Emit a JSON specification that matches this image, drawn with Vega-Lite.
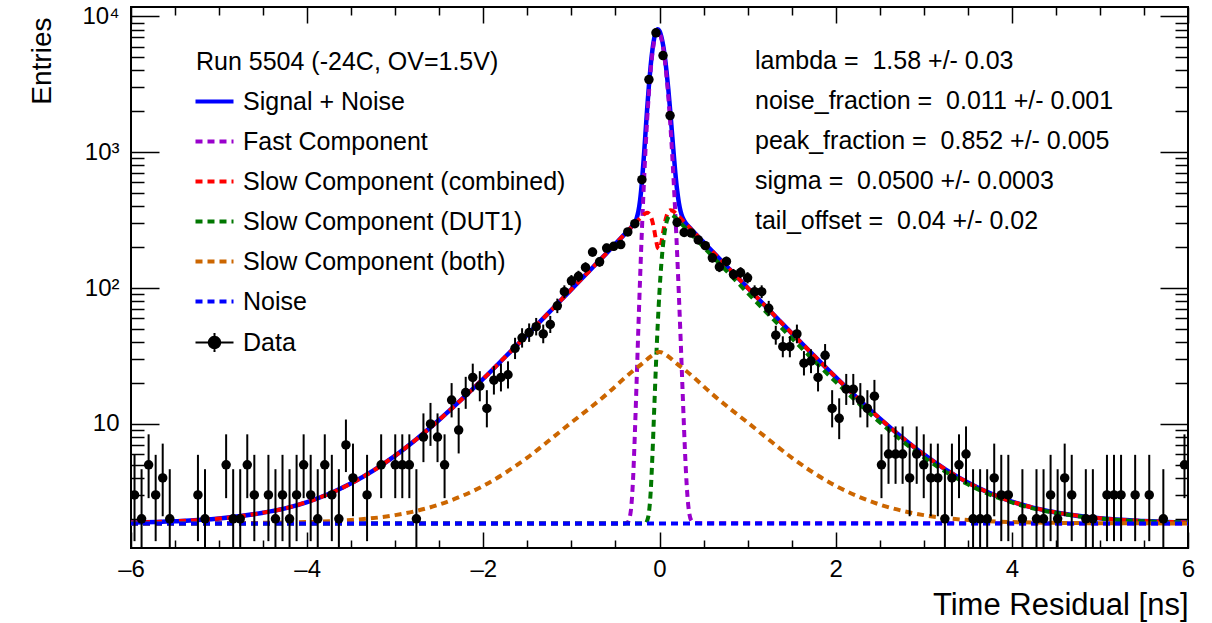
{
  "$schema": "https://vega.github.io/schema/vega-lite/v6.json",
  "width": 1057,
  "height": 541,
  "autosize": {"type": "none"},
  "padding": {"left": 131, "top": 7, "right": 24, "bottom": 75},
  "background": "white",
  "config": {
    "font": "Liberation Sans",
    "view": {"stroke": "black", "strokeWidth": 2},
    "axis": {"grid": false, "domain": false, "labelColor": "black", "tickColor": "black", "tickWidth": 1.5, "titleColor": "black", "labelFontSize": 24, "titleFontSize": 28, "titleFontWeight": "normal", "labelFont": "Liberation Sans", "titleFont": "Liberation Sans"}
  },
  "title": {
    "text": ["lambda = \u00a01.58 +/- 0.03", "noise_fraction = \u00a00.011 +/- 0.001", "peak_fraction = \u00a00.852 +/- 0.005", "sigma = \u00a00.0500 +/- 0.0003", "tail_offset = \u00a00.04 +/- 0.02"],
    "anchor": "start", "frame": "group", "orient": "top", "align": "left", "baseline": "top",
    "dx": 624, "dy": 230, "offset": 0, "fontSize": 25, "fontWeight": "normal", "lineHeight": 40.2, "color": "black", "font": "Liberation Sans", "limit": 0
  },
  "datasets": {
    "curves": [
      {"s":"Signal + Noise","t":-6,"v":1.88},{"s":"Signal + Noise","t":-5.5,"v":1.92},{"s":"Signal + Noise","t":-5,"v":2.01},{"s":"Signal + Noise","t":-4.5,"v":2.22},{"s":"Signal + Noise","t":-4.25,"v":2.39},{"s":"Signal + Noise","t":-4,"v":2.66},{"s":"Signal + Noise","t":-3.75,"v":3.06},{"s":"Signal + Noise","t":-3.5,"v":3.65},{"s":"Signal + Noise","t":-3.25,"v":4.53},{"s":"Signal + Noise","t":-3,"v":5.84},{"s":"Signal + Noise","t":-2.75,"v":7.81},{"s":"Signal + Noise","t":-2.5,"v":10.73},{"s":"Signal + Noise","t":-2.25,"v":15.07},{"s":"Signal + Noise","t":-2,"v":21.5},{"s":"Signal + Noise","t":-1.75,"v":31.2},{"s":"Signal + Noise","t":-1.5,"v":45.4},{"s":"Signal + Noise","t":-1.2,"v":71.9},{"s":"Signal + Noise","t":-1,"v":97.8},{"s":"Signal + Noise","t":-0.9,"v":114.1},{"s":"Signal + Noise","t":-0.8,"v":132.9},{"s":"Signal + Noise","t":-0.7,"v":155.3},{"s":"Signal + Noise","t":-0.6,"v":181},{"s":"Signal + Noise","t":-0.5,"v":211.7},{"s":"Signal + Noise","t":-0.4,"v":247.5},{"s":"Signal + Noise","t":-0.36,"v":263.5},{"s":"Signal + Noise","t":-0.32,"v":281},{"s":"Signal + Noise","t":-0.3,"v":291.4},{"s":"Signal + Noise","t":-0.28,"v":304.8},{"s":"Signal + Noise","t":-0.26,"v":326.2},{"s":"Signal + Noise","t":-0.24,"v":365.9},{"s":"Signal + Noise","t":-0.22,"v":444.7},{"s":"Signal + Noise","t":-0.2,"v":598.7},{"s":"Signal + Noise","t":-0.18,"v":880.6},{"s":"Signal + Noise","t":-0.16,"v":1359},{"s":"Signal + Noise","t":-0.14,"v":2091},{"s":"Signal + Noise","t":-0.12,"v":3104},{"s":"Signal + Noise","t":-0.1,"v":4352},{"s":"Signal + Noise","t":-0.08,"v":5694},{"s":"Signal + Noise","t":-0.06,"v":6912},{"s":"Signal + Noise","t":-0.04,"v":7763},{"s":"Signal + Noise","t":-0.02,"v":8058},{"s":"Signal + Noise","t":0,"v":7812},{"s":"Signal + Noise","t":0.02,"v":7151},{"s":"Signal + Noise","t":0.04,"v":6188},{"s":"Signal + Noise","t":0.06,"v":5067},{"s":"Signal + Noise","t":0.08,"v":3936},{"s":"Signal + Noise","t":0.1,"v":2915},{"s":"Signal + Noise","t":0.12,"v":2073},{"s":"Signal + Noise","t":0.14,"v":1437},{"s":"Signal + Noise","t":0.16,"v":992},{"s":"Signal + Noise","t":0.18,"v":702},{"s":"Signal + Noise","t":0.2,"v":526},{"s":"Signal + Noise","t":0.22,"v":424},{"s":"Signal + Noise","t":0.24,"v":366},{"s":"Signal + Noise","t":0.26,"v":333},{"s":"Signal + Noise","t":0.28,"v":314},{"s":"Signal + Noise","t":0.3,"v":300},{"s":"Signal + Noise","t":0.32,"v":289},{"s":"Signal + Noise","t":0.34,"v":280},{"s":"Signal + Noise","t":0.36,"v":271},{"s":"Signal + Noise","t":0.4,"v":254.4},{"s":"Signal + Noise","t":0.5,"v":217.7},{"s":"Signal + Noise","t":0.6,"v":186.3},{"s":"Signal + Noise","t":0.7,"v":159.5},{"s":"Signal + Noise","t":0.8,"v":136.7},{"s":"Signal + Noise","t":0.9,"v":117.2},{"s":"Signal + Noise","t":1,"v":100.5},{"s":"Signal + Noise","t":1.2,"v":73.9},{"s":"Signal + Noise","t":1.5,"v":46.6},{"s":"Signal + Noise","t":1.75,"v":32},{"s":"Signal + Noise","t":2,"v":22.1},{"s":"Signal + Noise","t":2.25,"v":15.44},{"s":"Signal + Noise","t":2.5,"v":10.98},{"s":"Signal + Noise","t":2.75,"v":7.98},{"s":"Signal + Noise","t":3,"v":5.96},{"s":"Signal + Noise","t":3.25,"v":4.61},{"s":"Signal + Noise","t":3.5,"v":3.7},{"s":"Signal + Noise","t":3.75,"v":3.09},{"s":"Signal + Noise","t":4,"v":2.68},{"s":"Signal + Noise","t":4.25,"v":2.41},{"s":"Signal + Noise","t":4.5,"v":2.23},{"s":"Signal + Noise","t":5,"v":2.02},{"s":"Signal + Noise","t":5.5,"v":1.93},{"s":"Signal + Noise","t":6,"v":1.88},

      {"s":"Fast Component","t":-6,"v":1.85},{"s":"Fast Component","t":-0.4,"v":1.85},{"s":"Fast Component","t":-0.36,"v":1.89},{"s":"Fast Component","t":-0.34,"v":2.02},{"s":"Fast Component","t":-0.32,"v":2.47},{"s":"Fast Component","t":-0.3,"v":3.94},{"s":"Fast Component","t":-0.28,"v":8.35},{"s":"Fast Component","t":-0.26,"v":20.35},{"s":"Fast Component","t":-0.24,"v":50.55},{"s":"Fast Component","t":-0.22,"v":119.6},{"s":"Fast Component","t":-0.2,"v":263.5},{"s":"Fast Component","t":-0.18,"v":535.9},{"s":"Fast Component","t":-0.16,"v":1006},{"s":"Fast Component","t":-0.14,"v":1735},{"s":"Fast Component","t":-0.12,"v":2752},{"s":"Fast Component","t":-0.1,"v":4016},{"s":"Fast Component","t":-0.08,"v":5388},{"s":"Fast Component","t":-0.06,"v":6647},{"s":"Fast Component","t":-0.04,"v":7539},{"s":"Fast Component","t":-0.02,"v":7862},{"s":"Fast Component","t":0,"v":7620},{"s":"Fast Component","t":0.02,"v":6938},{"s":"Fast Component","t":0.04,"v":5935},{"s":"Fast Component","t":0.06,"v":4769},{"s":"Fast Component","t":0.08,"v":3600},{"s":"Fast Component","t":0.1,"v":2554},{"s":"Fast Component","t":0.12,"v":1702},{"s":"Fast Component","t":0.14,"v":1066},{"s":"Fast Component","t":0.16,"v":627},{"s":"Fast Component","t":0.18,"v":347},{"s":"Fast Component","t":0.2,"v":181},{"s":"Fast Component","t":0.22,"v":89.2},{"s":"Fast Component","t":0.24,"v":41.9},{"s":"Fast Component","t":0.26,"v":19.05},{"s":"Fast Component","t":0.28,"v":8.8},{"s":"Fast Component","t":0.3,"v":4.49},{"s":"Fast Component","t":0.32,"v":2.79},{"s":"Fast Component","t":0.34,"v":2.16},{"s":"Fast Component","t":0.36,"v":1.95},{"s":"Fast Component","t":0.4,"v":1.86},{"s":"Fast Component","t":6,"v":1.85},

      {"s":"Slow Component (combined)","t":-6,"v":1.88},{"s":"Slow Component (combined)","t":-5.5,"v":1.92},{"s":"Slow Component (combined)","t":-5,"v":2.01},{"s":"Slow Component (combined)","t":-4.5,"v":2.22},{"s":"Slow Component (combined)","t":-4.25,"v":2.39},{"s":"Slow Component (combined)","t":-4,"v":2.66},{"s":"Slow Component (combined)","t":-3.75,"v":3.06},{"s":"Slow Component (combined)","t":-3.5,"v":3.65},{"s":"Slow Component (combined)","t":-3.25,"v":4.53},{"s":"Slow Component (combined)","t":-3,"v":5.84},{"s":"Slow Component (combined)","t":-2.75,"v":7.81},{"s":"Slow Component (combined)","t":-2.5,"v":10.73},{"s":"Slow Component (combined)","t":-2.25,"v":15.07},{"s":"Slow Component (combined)","t":-2,"v":21.5},{"s":"Slow Component (combined)","t":-1.75,"v":31.2},{"s":"Slow Component (combined)","t":-1.5,"v":45.4},{"s":"Slow Component (combined)","t":-1.2,"v":71.9},{"s":"Slow Component (combined)","t":-1,"v":97.8},{"s":"Slow Component (combined)","t":-0.9,"v":114.1},{"s":"Slow Component (combined)","t":-0.8,"v":132.9},{"s":"Slow Component (combined)","t":-0.7,"v":155.3},{"s":"Slow Component (combined)","t":-0.6,"v":181},{"s":"Slow Component (combined)","t":-0.5,"v":211.7},{"s":"Slow Component (combined)","t":-0.4,"v":247.5},{"s":"Slow Component (combined)","t":-0.36,"v":263.5},{"s":"Slow Component (combined)","t":-0.32,"v":280.4},{"s":"Slow Component (combined)","t":-0.28,"v":298.3},{"s":"Slow Component (combined)","t":-0.24,"v":317.2},{"s":"Slow Component (combined)","t":-0.2,"v":337.1},{"s":"Slow Component (combined)","t":-0.18,"v":346.6},{"s":"Slow Component (combined)","t":-0.16,"v":354.7},{"s":"Slow Component (combined)","t":-0.14,"v":358.4},{"s":"Slow Component (combined)","t":-0.12,"v":354.1},{"s":"Slow Component (combined)","t":-0.1,"v":337.9},{"s":"Slow Component (combined)","t":-0.08,"v":307.9},{"s":"Slow Component (combined)","t":-0.06,"v":267.4},{"s":"Slow Component (combined)","t":-0.04,"v":226.4},{"s":"Slow Component (combined)","t":-0.02,"v":198.4},{"s":"Slow Component (combined)","t":0,"v":194.1},{"s":"Slow Component (combined)","t":0.02,"v":215.1},{"s":"Slow Component (combined)","t":0.04,"v":254.8},{"s":"Slow Component (combined)","t":0.06,"v":300.1},{"s":"Slow Component (combined)","t":0.08,"v":338.3},{"s":"Slow Component (combined)","t":0.1,"v":362.8},{"s":"Slow Component (combined)","t":0.12,"v":373.3},{"s":"Slow Component (combined)","t":0.14,"v":372.9},{"s":"Slow Component (combined)","t":0.16,"v":366.5},{"s":"Slow Component (combined)","t":0.18,"v":357.2},{"s":"Slow Component (combined)","t":0.2,"v":346.7},{"s":"Slow Component (combined)","t":0.24,"v":326.1},{"s":"Slow Component (combined)","t":0.28,"v":306.6},{"s":"Slow Component (combined)","t":0.32,"v":288.2},{"s":"Slow Component (combined)","t":0.36,"v":270.9},{"s":"Slow Component (combined)","t":0.4,"v":254.4},{"s":"Slow Component (combined)","t":0.5,"v":217.7},{"s":"Slow Component (combined)","t":0.6,"v":186.3},{"s":"Slow Component (combined)","t":0.7,"v":159.5},{"s":"Slow Component (combined)","t":0.8,"v":136.7},{"s":"Slow Component (combined)","t":0.9,"v":117.2},{"s":"Slow Component (combined)","t":1,"v":100.5},{"s":"Slow Component (combined)","t":1.2,"v":73.9},{"s":"Slow Component (combined)","t":1.5,"v":46.6},{"s":"Slow Component (combined)","t":1.75,"v":32},{"s":"Slow Component (combined)","t":2,"v":22.1},{"s":"Slow Component (combined)","t":2.25,"v":15.44},{"s":"Slow Component (combined)","t":2.5,"v":10.98},{"s":"Slow Component (combined)","t":2.75,"v":7.98},{"s":"Slow Component (combined)","t":3,"v":5.96},{"s":"Slow Component (combined)","t":3.25,"v":4.61},{"s":"Slow Component (combined)","t":3.5,"v":3.7},{"s":"Slow Component (combined)","t":3.75,"v":3.09},{"s":"Slow Component (combined)","t":4,"v":2.68},{"s":"Slow Component (combined)","t":4.25,"v":2.41},{"s":"Slow Component (combined)","t":4.5,"v":2.23},{"s":"Slow Component (combined)","t":5,"v":2.02},{"s":"Slow Component (combined)","t":5.5,"v":1.93},{"s":"Slow Component (combined)","t":6,"v":1.88},

      {"s":"Slow Component (DUT1)","t":-6,"v":1.85},{"s":"Slow Component (DUT1)","t":-0.16,"v":1.85},{"s":"Slow Component (DUT1)","t":-0.14,"v":1.94},{"s":"Slow Component (DUT1)","t":-0.12,"v":2.22},{"s":"Slow Component (DUT1)","t":-0.1,"v":3.16},{"s":"Slow Component (DUT1)","t":-0.08,"v":5.92},{"s":"Slow Component (DUT1)","t":-0.06,"v":12.8},{"s":"Slow Component (DUT1)","t":-0.04,"v":27.4},{"s":"Slow Component (DUT1)","t":-0.02,"v":53.9},{"s":"Slow Component (DUT1)","t":0,"v":94.7},{"s":"Slow Component (DUT1)","t":0.02,"v":148.1},{"s":"Slow Component (DUT1)","t":0.04,"v":207.4},{"s":"Slow Component (DUT1)","t":0.06,"v":262.9},{"s":"Slow Component (DUT1)","t":0.08,"v":305.9},{"s":"Slow Component (DUT1)","t":0.1,"v":332.7},{"s":"Slow Component (DUT1)","t":0.12,"v":344.3},{"s":"Slow Component (DUT1)","t":0.14,"v":344.8},{"s":"Slow Component (DUT1)","t":0.16,"v":339.1},{"s":"Slow Component (DUT1)","t":0.18,"v":330.6},{"s":"Slow Component (DUT1)","t":0.2,"v":320.9},{"s":"Slow Component (DUT1)","t":0.24,"v":301.5},{"s":"Slow Component (DUT1)","t":0.28,"v":283.2},{"s":"Slow Component (DUT1)","t":0.32,"v":266},{"s":"Slow Component (DUT1)","t":0.36,"v":249.8},{"s":"Slow Component (DUT1)","t":0.4,"v":234.6},{"s":"Slow Component (DUT1)","t":0.5,"v":200.6},{"s":"Slow Component (DUT1)","t":0.6,"v":171.6},{"s":"Slow Component (DUT1)","t":0.7,"v":146.8},{"s":"Slow Component (DUT1)","t":0.8,"v":125.6},{"s":"Slow Component (DUT1)","t":0.9,"v":107.5},{"s":"Slow Component (DUT1)","t":1,"v":92.1},{"s":"Slow Component (DUT1)","t":1.2,"v":67.7},{"s":"Slow Component (DUT1)","t":1.5,"v":42.8},{"s":"Slow Component (DUT1)","t":1.75,"v":29.4},{"s":"Slow Component (DUT1)","t":2,"v":20.4},{"s":"Slow Component (DUT1)","t":2.25,"v":14.36},{"s":"Slow Component (DUT1)","t":2.5,"v":10.28},{"s":"Slow Component (DUT1)","t":2.75,"v":7.53},{"s":"Slow Component (DUT1)","t":3,"v":5.68},{"s":"Slow Component (DUT1)","t":3.25,"v":4.43},{"s":"Slow Component (DUT1)","t":3.5,"v":3.59},{"s":"Slow Component (DUT1)","t":3.75,"v":3.02},{"s":"Slow Component (DUT1)","t":4,"v":2.64},{"s":"Slow Component (DUT1)","t":4.25,"v":2.38},{"s":"Slow Component (DUT1)","t":4.5,"v":2.21},{"s":"Slow Component (DUT1)","t":5,"v":2.01},{"s":"Slow Component (DUT1)","t":5.5,"v":1.92},{"s":"Slow Component (DUT1)","t":6,"v":1.88},

      {"s":"Slow Component (both)","t":-6,"v":1.851},{"s":"Slow Component (both)","t":-5,"v":1.857},{"s":"Slow Component (both)","t":-4.5,"v":1.868},{"s":"Slow Component (both)","t":-4,"v":1.895},{"s":"Slow Component (both)","t":-3.5,"v":1.96},{"s":"Slow Component (both)","t":-3,"v":2.13},{"s":"Slow Component (both)","t":-2.5,"v":2.55},{"s":"Slow Component (both)","t":-2,"v":3.5},{"s":"Slow Component (both)","t":-1.5,"v":5.65},{"s":"Slow Component (both)","t":-1.2,"v":8.05},{"s":"Slow Component (both)","t":-1,"v":10.25},{"s":"Slow Component (both)","t":-0.8,"v":12.95},{"s":"Slow Component (both)","t":-0.6,"v":16.55},{"s":"Slow Component (both)","t":-0.4,"v":21.65},{"s":"Slow Component (both)","t":-0.3,"v":24.65},{"s":"Slow Component (both)","t":-0.2,"v":27.65},{"s":"Slow Component (both)","t":-0.1,"v":31.35},{"s":"Slow Component (both)","t":0,"v":33.85},{"s":"Slow Component (both)","t":0.1,"v":31.35},{"s":"Slow Component (both)","t":0.2,"v":27.65},{"s":"Slow Component (both)","t":0.3,"v":24.65},{"s":"Slow Component (both)","t":0.4,"v":21.65},{"s":"Slow Component (both)","t":0.6,"v":16.55},{"s":"Slow Component (both)","t":0.8,"v":12.95},{"s":"Slow Component (both)","t":1,"v":10.25},{"s":"Slow Component (both)","t":1.2,"v":8.05},{"s":"Slow Component (both)","t":1.5,"v":5.65},{"s":"Slow Component (both)","t":2,"v":3.5},{"s":"Slow Component (both)","t":2.5,"v":2.55},{"s":"Slow Component (both)","t":3,"v":2.13},{"s":"Slow Component (both)","t":3.5,"v":1.96},{"s":"Slow Component (both)","t":4,"v":1.895},{"s":"Slow Component (both)","t":4.5,"v":1.868},{"s":"Slow Component (both)","t":5,"v":1.857},{"s":"Slow Component (both)","t":6,"v":1.851},

      {"s":"Noise","t":-6,"v":1.85},{"s":"Noise","t":6,"v":1.85}
    ],
    "points": [
      {"t":-5.96,"n":3,"lo":1.37,"hi":5.92},{"t":-5.88,"n":2,"lo":0.71,"hi":4.64},{"t":-5.8,"n":5,"lo":2.84,"hi":8.38},{"t":-5.72,"n":3,"lo":1.37,"hi":5.92},{"t":-5.64,"n":4,"lo":2.09,"hi":7.16},{"t":-5.56,"n":2,"lo":0.71,"hi":4.64},
      {"t":-5.24,"n":3,"lo":1.37,"hi":5.92},{"t":-5.16,"n":2,"lo":0.71,"hi":4.64},{"t":-4.92,"n":5,"lo":2.84,"hi":8.38},{"t":-4.84,"n":2,"lo":0.71,"hi":4.64},{"t":-4.76,"n":2,"lo":0.71,"hi":4.64},{"t":-4.68,"n":5,"lo":2.84,"hi":8.38},{"t":-4.6,"n":3,"lo":1.37,"hi":5.92},
      {"t":-4.44,"n":3,"lo":1.37,"hi":5.92},{"t":-4.36,"n":2,"lo":0.71,"hi":4.64},{"t":-4.28,"n":3,"lo":1.37,"hi":5.92},{"t":-4.2,"n":2,"lo":0.71,"hi":4.64},{"t":-4.12,"n":3,"lo":1.37,"hi":5.92},{"t":-4.04,"n":5,"lo":2.84,"hi":8.38},{"t":-3.96,"n":3,"lo":1.37,"hi":5.92},{"t":-3.88,"n":2,"lo":0.71,"hi":4.64},{"t":-3.8,"n":5,"lo":2.84,"hi":8.38},{"t":-3.72,"n":3,"lo":1.37,"hi":5.92},{"t":-3.64,"n":2,"lo":0.71,"hi":4.64},{"t":-3.56,"n":7,"lo":4.42,"hi":10.77},{"t":-3.48,"n":4,"lo":2.09,"hi":7.16},
      {"t":-3.32,"n":3,"lo":1.37,"hi":5.92},{"t":-3.16,"n":5,"lo":2.84,"hi":8.38},{"t":-3.0,"n":5,"lo":2.84,"hi":8.38},{"t":-2.92,"n":5,"lo":2.84,"hi":8.38},{"t":-2.84,"n":5,"lo":2.84,"hi":8.38},{"t":-2.76,"n":2,"lo":0.71,"hi":4.64},{"t":-2.68,"n":8,"lo":5.23,"hi":11.95},{"t":-2.6,"n":10,"lo":6.89,"hi":14.27},{"t":-2.52,"n":8,"lo":5.23,"hi":11.95},{"t":-2.44,"n":5,"lo":2.84,"hi":8.38},{"t":-2.36,"n":15,"lo":11.16,"hi":19.97},{"t":-2.28,"n":9,"lo":6.06,"hi":13.11},{"t":-2.2,"n":17,"lo":12.91,"hi":22.21},{"t":-2.12,"n":22,"lo":17.34,"hi":27.77},{"t":-2.04,"n":19,"lo":14.67,"hi":24.44},{"t":-1.96,"n":13,"lo":9.43,"hi":17.71},{"t":-1.88,"n":21,"lo":16.45,"hi":26.66},{"t":-1.8,"n":22,"lo":17.34,"hi":27.77},{"t":-1.72,"n":23,"lo":18.23,"hi":28.87},{"t":-1.64,"n":36,"lo":30.02,"hi":43.06},{"t":-1.56,"n":43,"lo":36.46,"hi":50.61},{"t":-1.48,"n":47,"lo":40.16,"hi":54.91},{"t":-1.4,"n":52,"lo":44.81,"hi":60.26},{"t":-1.32,"n":46,"lo":39.24,"hi":53.84},{"t":-1.24,"n":54,"lo":46.67,"hi":62.4},{"t":-1.16,"n":74,"lo":65.41,"hi":83.65},{"t":-1.08,"n":94,"lo":84.32,"hi":104.73},{"t":-1.0,"n":113,"lo":102.38,"hi":124.67},{"t":-0.92,"n":122,"lo":110.97,"hi":134.08},{"t":-0.84,"n":142,"lo":130.09,"hi":154.95},{"t":-0.76,"n":184,"lo":170.45,"hi":198.59},{"t":-0.68,"n":156,"lo":143.52,"hi":169.52},{"t":-0.6,"n":197,"lo":182.97,"hi":212.06},{"t":-0.52,"n":203,"lo":188.76,"hi":218.27},{"t":-0.44,"n":209,"lo":194.55,"hi":224.48},{"t":-0.36,"n":259,"lo":242.91,"hi":276.12},{"t":-0.28,"n":298,"lo":280.75,"hi":316.28},{"t":-0.2,"n":628,"lo":602.95,"hi":654.08},{"t":-0.12,"n":3428,"lo":3369.45,"hi":3487.56},{"t":-0.04,"n":7568,"lo":7481.01,"hi":7656},{"t":0.04,"n":5150,"lo":5078.24,"hi":5222.77},{"t":0.12,"n":1862,"lo":1818.85,"hi":1906.16},{"t":0.2,"n":304,"lo":286.57,"hi":322.46},{"t":0.28,"n":257,"lo":240.98,"hi":274.06},{"t":0.36,"n":254,"lo":238.07,"hi":270.96},{"t":0.44,"n":226,"lo":210.98,"hi":242.06},{"t":0.52,"n":205,"lo":190.69,"hi":220.34},{"t":0.6,"n":167,"lo":154.09,"hi":180.95},{"t":0.68,"n":143,"lo":131.05,"hi":155.99},{"t":0.76,"n":157,"lo":144.48,"hi":170.56},{"t":0.84,"n":126,"lo":114.79,"hi":138.26},{"t":0.92,"n":130,"lo":118.61,"hi":142.44},{"t":1.0,"n":119,"lo":108.1,"hi":130.94},{"t":1.08,"n":94,"lo":84.32,"hi":104.73},{"t":1.16,"n":94,"lo":84.32,"hi":104.73},{"t":1.24,"n":71,"lo":62.59,"hi":80.47},{"t":1.32,"n":45,"lo":38.31,"hi":52.76},{"t":1.4,"n":37,"lo":30.94,"hi":44.14},{"t":1.48,"n":37,"lo":30.94,"hi":44.14},{"t":1.56,"n":46,"lo":39.24,"hi":53.84},{"t":1.64,"n":28,"lo":22.73,"hi":34.36},{"t":1.72,"n":29,"lo":23.64,"hi":35.45},{"t":1.8,"n":22,"lo":17.34,"hi":27.77},{"t":1.88,"n":32,"lo":26.37,"hi":38.72},{"t":1.96,"n":13,"lo":9.43,"hi":17.71},{"t":2.04,"n":11,"lo":7.72,"hi":15.43},{"t":2.12,"n":18,"lo":13.79,"hi":23.33},{"t":2.2,"n":18,"lo":13.79,"hi":23.33},{"t":2.28,"n":15,"lo":11.16,"hi":19.97},{"t":2.36,"n":13,"lo":9.43,"hi":17.71},{"t":2.44,"n":16,"lo":12.03,"hi":21.09},{"t":2.52,"n":5,"lo":2.84,"hi":8.38},{"t":2.6,"n":6,"lo":3.62,"hi":9.58},{"t":2.68,"n":6,"lo":3.62,"hi":9.58},{"t":2.76,"n":6,"lo":3.62,"hi":9.58},{"t":2.84,"n":4,"lo":2.09,"hi":7.16},{"t":2.92,"n":6,"lo":3.62,"hi":9.58},{"t":3.0,"n":5,"lo":2.84,"hi":8.38},{"t":3.08,"n":4,"lo":2.09,"hi":7.16},{"t":3.16,"n":4,"lo":2.09,"hi":7.16},{"t":3.24,"n":2,"lo":0.71,"hi":4.64},{"t":3.32,"n":4,"lo":2.09,"hi":7.16},{"t":3.4,"n":5,"lo":2.84,"hi":8.38},{"t":3.48,"n":6,"lo":3.62,"hi":9.58},{"t":3.56,"n":2,"lo":0.71,"hi":4.64},{"t":3.64,"n":2,"lo":0.71,"hi":4.64},{"t":3.72,"n":2,"lo":0.71,"hi":4.64},{"t":3.8,"n":4,"lo":2.09,"hi":7.16},{"t":3.88,"n":3,"lo":1.37,"hi":5.92},{"t":3.96,"n":3,"lo":1.37,"hi":5.92},
      {"t":4.12,"n":2,"lo":0.71,"hi":4.64},{"t":4.28,"n":2,"lo":0.71,"hi":4.64},{"t":4.36,"n":2,"lo":0.71,"hi":4.64},{"t":4.44,"n":3,"lo":1.37,"hi":5.92},{"t":4.52,"n":2,"lo":0.71,"hi":4.64},{"t":4.6,"n":4,"lo":2.09,"hi":7.16},{"t":4.68,"n":3,"lo":1.37,"hi":5.92},{"t":4.84,"n":2,"lo":0.71,"hi":4.64},{"t":4.92,"n":2,"lo":0.71,"hi":4.64},{"t":5.08,"n":3,"lo":1.37,"hi":5.92},{"t":5.16,"n":3,"lo":1.37,"hi":5.92},{"t":5.24,"n":3,"lo":1.37,"hi":5.92},{"t":5.4,"n":3,"lo":1.37,"hi":5.92},{"t":5.56,"n":3,"lo":1.37,"hi":5.92},{"t":5.72,"n":2,"lo":0.71,"hi":4.64},{"t":5.96,"n":5,"lo":2.84,"hi":8.38}
    ]
  },
  "layer": [
    {
      "data": {"name": "curves"},
      "transform": [{"filter": "datum.s === 'Signal + Noise'"}],
      "mark": {"type": "line", "strokeWidth": 4.5, "clip": true, "interpolate": "monotone"},
      "encoding": {
        "x": {"field": "t", "type": "quantitative", "scale": {"domain": [-6, 6], "nice": false, "zero": false},
              "axis": {"orient": "bottom", "values": [-6, -4, -2, 0, 2, 4, 6], "ticks": false, "tickSize": 0, "labelPadding": 9, "labelFlush": false, "labelOverlap": false,
                       "labelExpr": "datum.value < 0 ? '\u2013' + abs(datum.value) : datum.label",
                       "title": "Time Residual [ns]", "titleFontSize": 31, "titleX": 1057, "titleY": 66, "titleAlign": "right", "titleBaseline": "alphabetic", "titleAnchor": null}},
        "y": {"field": "v", "type": "quantitative", "scale": {"type": "log", "domain": [1.22, 11730], "nice": false},
              "axis": {"orient": "left", "values": [10, 100, 1000, 10000], "ticks": false, "tickSize": 0, "labelPadding": 12, "labelOverlap": false,
                       "labelExpr": "datum.value == 10 ? '10' : datum.value == 100 ? '10\u00b2' : datum.value == 1000 ? '10\u00b3' : '10\u2074'",
                       "title": "Entries", "titleX": -81, "titleY": 10, "titleAngle": -90, "titleAlign": "right", "titleBaseline": "alphabetic", "titleAnchor": null}},
        "color": {"field": "s", "type": "nominal",
          "scale": {"domain": ["Signal + Noise", "Fast Component", "Slow Component (combined)", "Slow Component (DUT1)", "Slow Component (both)", "Noise", "Data"],
                    "range": ["#0000ff", "#9900cc", "#ff0000", "#007700", "#cc6600", "#0000ff", "#000000"]},
          "legend": {
            "orient": "none", "legendX": 65, "legendY": 43,
            "title": "Run 5504 (-24C, OV=1.5V)", "titleLimit": 800,
            "titleFontSize": 25, "titleFontWeight": "normal", "titleColor": "black", "titlePadding": 14, "titleFont": "Liberation Sans",
            "labelFontSize": 25, "labelColor": "black", "labelFont": "Liberation Sans", "labelOffset": 16, "labelLimit": 800,
            "symbolType": "stroke", "symbolSize": 1444, "symbolStrokeWidth": 4, "symbolOffset": 6,
            "rowPadding": 14, "padding": 0,
            "encode": {"symbols": {"update": {
              "shape": {"signal": "datum.value === 'Data' ? 'M-1,0H1M0,-0.5V0.5M0.3,0A0.3,0.3,0,1,1,-0.3,0A0.3,0.3,0,1,1,0.3,0Z' : 'stroke'"},
              "strokeDash": {"signal": "(datum.value === 'Signal + Noise' || datum.value === 'Data') ? [1, 0] : [7, 5]"},
              "strokeWidth": {"signal": "datum.value === 'Data' ? 2 : 4"},
              "fill": {"signal": "datum.value === 'Data' ? 'black' : 'transparent'"},
              "size": {"value": 1444},
              "opacity": {"value": 1}
            }}}
          }
        }
      }
    },
    {
      "data": {"name": "curves"},
      "transform": [{"filter": "datum.s === 'Fast Component'"}],
      "mark": {"type": "line", "strokeWidth": 4, "strokeDash": [7, 5], "clip": true, "interpolate": "monotone"},
      "encoding": {
        "x": {"field": "t", "type": "quantitative", "scale": {"domain": [-6, 6], "nice": false, "zero": false},
              "axis": {"orient": "bottom", "values": [-6, -4, -2, 0, 2, 4, 6], "labels": false, "tickSize": -16, "title": null}},
        "y": {"field": "v", "type": "quantitative", "scale": {"type": "log", "domain": [1.22, 11730], "nice": false},
              "axis": {"orient": "left", "values": [10, 100, 1000, 10000], "labels": false, "tickSize": -28, "title": null}},
        "color": {"field": "s", "type": "nominal"}
      }
    },
    {
      "data": {"name": "curves"},
      "transform": [{"filter": "datum.s === 'Slow Component (combined)'"}],
      "mark": {"type": "line", "strokeWidth": 4, "strokeDash": [7, 5], "clip": true, "interpolate": "monotone"},
      "encoding": {
        "x": {"field": "t", "type": "quantitative", "scale": {"domain": [-6, 6], "nice": false, "zero": false},
              "axis": {"orient": "bottom", "values": [-5.5, -5, -4.5, -3.5, -3, -2.5, -1.5, -1, -0.5, 0.5, 1, 1.5, 2.5, 3, 3.5, 4.5, 5, 5.5], "labels": false, "tickSize": -8, "title": null}},
        "y": {"field": "v", "type": "quantitative", "scale": {"type": "log", "domain": [1.22, 11730], "nice": false},
              "axis": {"orient": "left", "values": [2, 3, 4, 5, 6, 7, 8, 9, 20, 30, 40, 50, 60, 70, 80, 90, 200, 300, 400, 500, 600, 700, 800, 900, 2000, 3000, 4000, 5000, 6000, 7000, 8000, 9000], "labels": false, "tickSize": -13, "title": null}},
        "color": {"field": "s", "type": "nominal"}
      }
    },
    {
      "data": {"name": "curves"},
      "transform": [{"filter": "datum.s === 'Slow Component (DUT1)'"}],
      "mark": {"type": "line", "strokeWidth": 4, "strokeDash": [7, 5], "clip": true, "interpolate": "monotone"},
      "encoding": {
        "x": {"field": "t", "type": "quantitative", "scale": {"domain": [-6, 6], "nice": false, "zero": false},
              "axis": {"orient": "top", "values": [-6, -4, -2, 0, 2, 4, 6], "labels": false, "tickSize": -16, "title": null}},
        "y": {"field": "v", "type": "quantitative", "scale": {"type": "log", "domain": [1.22, 11730], "nice": false},
              "axis": {"orient": "right", "values": [10, 100, 1000, 10000], "labels": false, "tickSize": -28, "title": null}},
        "color": {"field": "s", "type": "nominal"}
      }
    },
    {
      "data": {"name": "curves"},
      "transform": [{"filter": "datum.s === 'Slow Component (both)'"}],
      "mark": {"type": "line", "strokeWidth": 4, "strokeDash": [7, 5], "clip": true, "interpolate": "monotone"},
      "encoding": {
        "x": {"field": "t", "type": "quantitative", "scale": {"domain": [-6, 6], "nice": false, "zero": false},
              "axis": {"orient": "top", "values": [-5.5, -5, -4.5, -3.5, -3, -2.5, -1.5, -1, -0.5, 0.5, 1, 1.5, 2.5, 3, 3.5, 4.5, 5, 5.5], "labels": false, "tickSize": -8, "title": null}},
        "y": {"field": "v", "type": "quantitative", "scale": {"type": "log", "domain": [1.22, 11730], "nice": false},
              "axis": {"orient": "right", "values": [2, 3, 4, 5, 6, 7, 8, 9, 20, 30, 40, 50, 60, 70, 80, 90, 200, 300, 400, 500, 600, 700, 800, 900, 2000, 3000, 4000, 5000, 6000, 7000, 8000, 9000], "labels": false, "tickSize": -13, "title": null}},
        "color": {"field": "s", "type": "nominal"}
      }
    },
    {
      "data": {"name": "curves"},
      "transform": [{"filter": "datum.s === 'Noise'"}],
      "mark": {"type": "line", "strokeWidth": 4, "strokeDash": [7, 5], "clip": true},
      "encoding": {
        "x": {"field": "t", "type": "quantitative", "axis": null},
        "y": {"field": "v", "type": "quantitative", "axis": null},
        "color": {"field": "s", "type": "nominal"}
      }
    },
    {
      "data": {"name": "points"},
      "mark": {"type": "rule", "color": "black", "strokeWidth": 2, "clip": true},
      "encoding": {
        "x": {"field": "t", "type": "quantitative", "axis": null},
        "y": {"field": "lo", "type": "quantitative", "axis": null},
        "y2": {"field": "hi"}
      }
    },
    {
      "data": {"name": "points"},
      "mark": {"type": "point", "filled": true, "color": "black", "size": 90, "opacity": 1, "clip": true},
      "encoding": {
        "x": {"field": "t", "type": "quantitative", "axis": null},
        "y": {"field": "n", "type": "quantitative", "axis": null}
      }
    }
  ],
  "resolve": {"axis": {"x": "independent", "y": "independent"}}
}
